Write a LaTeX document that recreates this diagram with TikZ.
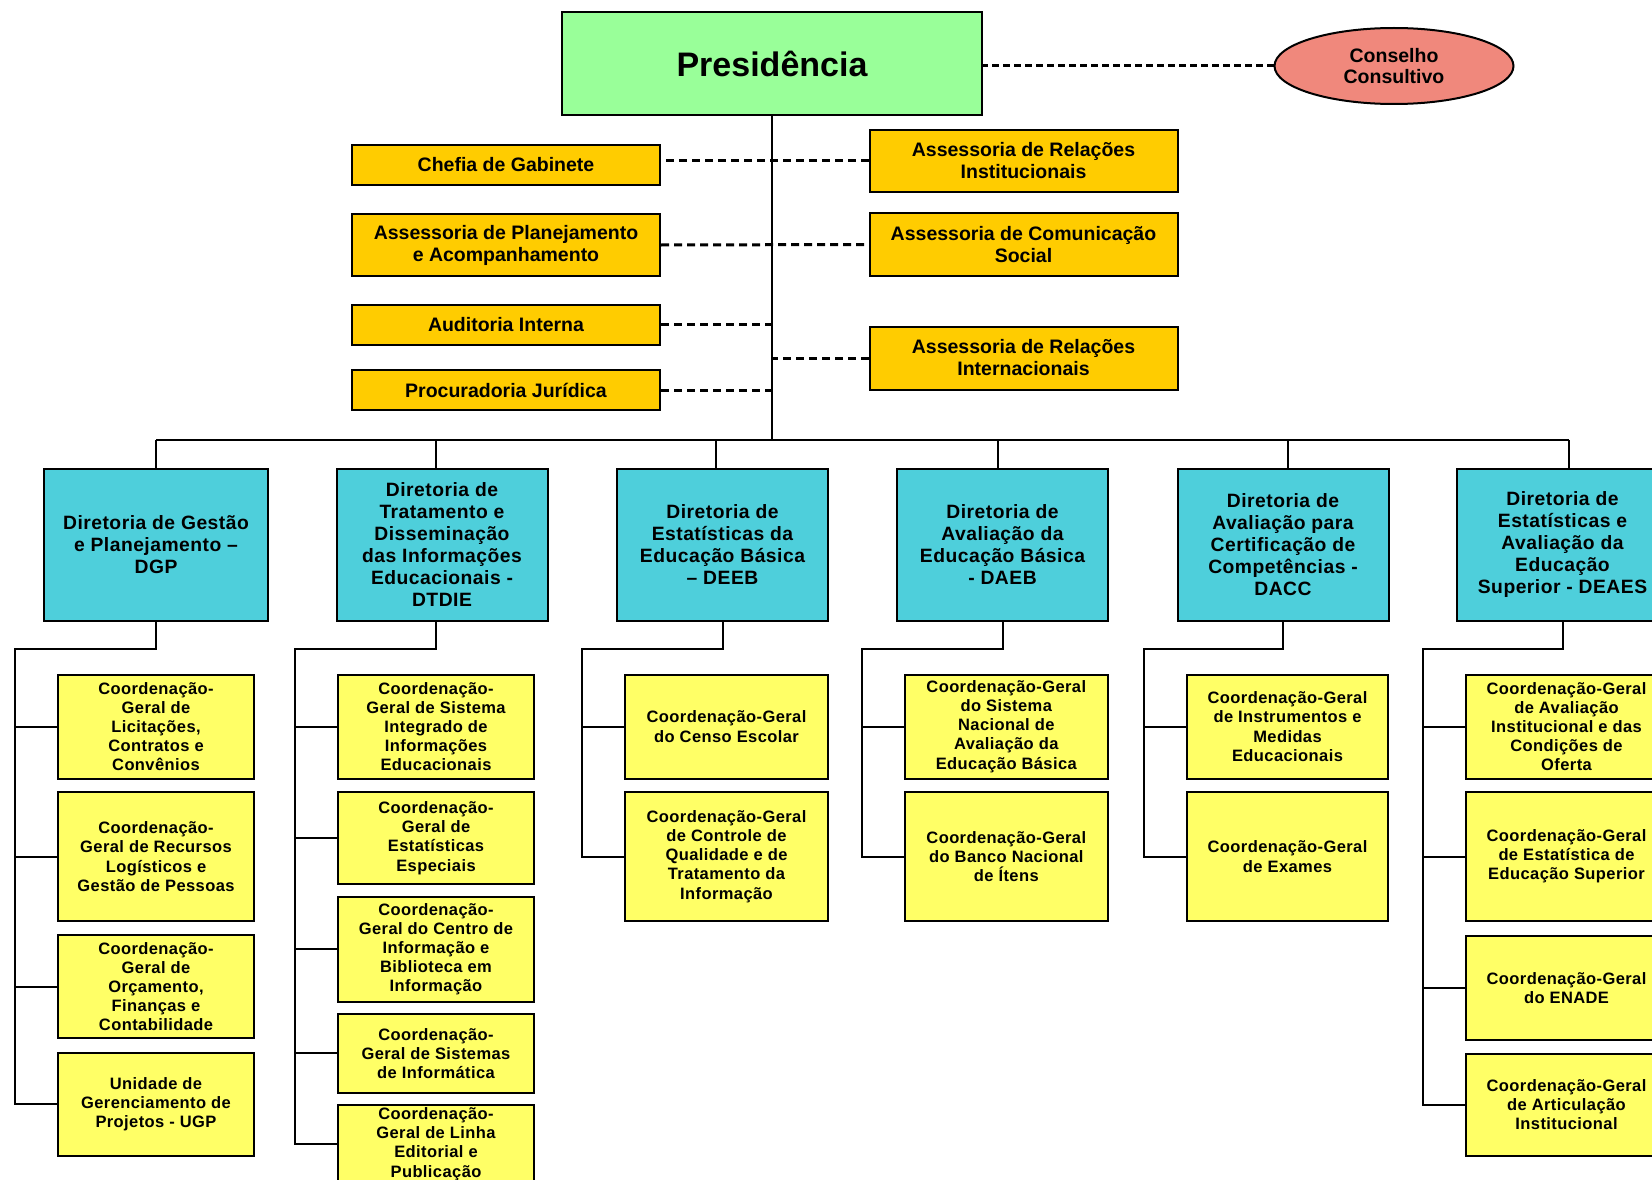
\documentclass[tikz,border=0pt]{standalone}
\usepackage{fontspec}
\setmainfont{Liberation Sans}
\newfontfamily\spacedsans[LetterSpace=2.5]{Liberation Sans}
\usetikzlibrary{shapes.geometric}

\definecolor{presgreen}{HTML}{99FF99}
\definecolor{conssalmon}{HTML}{F0887C}
\definecolor{assorange}{HTML}{FFCC00}
\definecolor{dircyan}{HTML}{4ECFDB}
\definecolor{coordyellow}{HTML}{FFFF66}

\tikzset{
  box/.style={draw, line width=2pt, align=center, inner sep=0pt},
  presbox/.style={box, fill=presgreen, minimum width=420pt, minimum height=103pt,
    font=\fontsize{34}{40}\selectfont\bfseries},
  consbox/.style={ellipse, draw, line width=2pt, align=center, inner sep=0pt,
    fill=conssalmon, minimum width=239pt, minimum height=76pt,
    font=\fontsize{19.5}{21}\selectfont\bfseries},
  assbox/.style={box, fill=assorange, minimum width=308pt,
    font=\fontsize{19.5}{22}\selectfont\bfseries},
  dirbox/.style={box, fill=dircyan, minimum width=211pt, minimum height=152pt,
    font=\spacedsans\fontsize{19.3}{22}\selectfont\bfseries},
  coordbox/.style={box, fill=coordyellow, minimum width=202pt, minimum height=104pt,
    font=\spacedsans\fontsize{16.5}{19.2}\selectfont\bfseries},
  link/.style={line width=2pt},
  dashlink/.style={line width=3pt, dash pattern=on 8pt off 5pt}
}

\begin{document}
\begin{tikzpicture}[x=1pt, y=-1pt]
\useasboundingbox (0,0) rectangle (1652,1180);

% Presidência e Conselho
\node[presbox] (pres) at (772,64) {Presidência};
\node[consbox] (cons) at (1394,66) {Conselho\\Consultivo};
\draw[dashlink, dash pattern=on 7pt off 4pt] (cons.west) -- (cons.west -| pres.east);

% Assessorias
\node[assbox, minimum height=40pt] (chefia) at (506,165) {Chefia de Gabinete};
\node[assbox, minimum height=62pt] (planej) at (506,245) {Assessoria de Planejamento\\e Acompanhamento};
\node[assbox, minimum height=40pt] (audit) at (506,324.5) {Auditoria Interna};
\node[assbox, minimum height=40pt] (procur) at (506,390) {Procuradoria Jurídica};
\node[assbox, minimum height=62pt] (relinst) at (1023.5,161) {Assessoria de Relações\\Institucionais};
\node[assbox, minimum height=63pt] (comunic) at (1023.5,244.5) {Assessoria de Comunicação\\Social};
\node[assbox, minimum height=63pt] (relintl) at (1023.5,358) {Assessoria de Relações\\Internacionais};

% Diretorias
\node[dirbox, minimum width=224pt] (dgp) at (156,545) {Diretoria de Gestão\\e Planejamento –\\DGP};
\node[dirbox] (dtdie) at (442,545) {Diretoria de\\Tratamento e\\Disseminação\\das Informações\\Educacionais -\\DTDIE};
\node[dirbox] (deeb) at (722.5,545) {Diretoria de\\Estatísticas da\\Educação Básica\\– DEEB};
\node[dirbox] (daeb) at (1002.5,545) {Diretoria de\\Avaliação da\\Educação Básica\\- DAEB};
\node[dirbox] (dacc) at (1283,545) {Diretoria de\\Avaliação para\\Certificação de\\Competências -\\DACC};
\node[dirbox] (deaes) at (1562.5,545) {Diretoria de\\Estatísticas e\\Avaliação da\\Educação\\Superior - DEAES};

% Coordenações DGP
\node[coordbox, minimum width=196pt] (dgp1) at (156,726.5) {Coordenação-\\Geral de\\Licitações,\\Contratos e\\Convênios};
\node[coordbox, minimum width=196pt, minimum height=129pt] (dgp2) at (156,856.5) {Coordenação-\\Geral de Recursos\\Logísticos e\\Gestão de Pessoas};
\node[coordbox, minimum width=196pt, minimum height=103pt] (dgp3) at (156,986.5) {Coordenação-\\Geral de\\Orçamento,\\Finanças e\\Contabilidade};
\node[coordbox, minimum width=196pt, minimum height=103pt] (dgp4) at (156,1104.3) {Unidade de\\Gerenciamento de\\Projetos - UGP};

% Coordenações DTDIE
\node[coordbox, minimum width=196pt] (dtdie1) at (436,726.5) {Coordenação-\\Geral de Sistema\\Integrado de\\Informações\\Educacionais};
\node[coordbox, minimum width=196pt, minimum height=92pt] (dtdie2) at (436,838) {Coordenação-\\Geral de\\Estatísticas\\Especiais};
\node[coordbox, minimum width=196pt, minimum height=104.6pt] (dtdie3) at (436,949.3) {Coordenação-\\Geral do Centro de\\Informação e\\Biblioteca em\\Informação};
\node[coordbox, minimum width=196pt, minimum height=78.7pt] (dtdie4) at (436,1053.4) {Coordenação-\\Geral de Sistemas\\de Informática};
\node[coordbox, minimum width=196pt, minimum height=78pt] (dtdie5) at (436,1144) {Coordenação-\\Geral de Linha\\Editorial e\\Publicação};

% Coordenações DEEB
\node[coordbox, minimum width=203pt] (deeb1) at (726.5,726.5) {Coordenação-Geral\\do Censo Escolar};
\node[coordbox, minimum width=203pt, minimum height=129pt] (deeb2) at (726.5,856.5) {Coordenação-Geral\\de Controle de\\Qualidade e de\\Tratamento da\\Informação};

% Coordenações DAEB
\node[coordbox, minimum width=203pt] (daeb1) at (1006.3,726.5) {Coordenação-Geral\\do Sistema\\Nacional de\\Avaliação da\\Educação Básica};
\node[coordbox, minimum width=203pt, minimum height=129pt] (daeb2) at (1006.3,856.5) {Coordenação-Geral\\do Banco Nacional\\de Ítens};

% Coordenações DACC
\node[coordbox, minimum width=201pt] (dacc1) at (1287.5,726.5) {Coordenação-Geral\\de Instrumentos e\\Medidas\\Educacionais};
\node[coordbox, minimum width=201pt, minimum height=129pt] (dacc2) at (1287.5,856.5) {Coordenação-Geral\\de Exames};

% Coordenações DEAES
\node[coordbox, minimum width=201pt] (deaes1) at (1566.5,726.5) {Coordenação-Geral\\de Avaliação\\Institucional e das\\Condições de\\Oferta};
\node[coordbox, minimum width=201pt, minimum height=129pt] (deaes2) at (1566.5,856.5) {Coordenação-Geral\\de Estatística de\\Educação Superior};
\node[coordbox, minimum width=201pt, minimum height=104.5pt] (deaes3) at (1566.5,988) {Coordenação-Geral\\do ENADE};
\node[coordbox, minimum width=201pt, minimum height=102.5pt] (deaes4) at (1566.5,1104.8) {Coordenação-Geral\\de Articulação\\Institucional};

% Ligações tracejadas
\draw[dashlink] (relinst.west) -- (relinst.west -| chefia.east);
\draw[dashlink] (planej.east) -- (comunic.west);
\draw[dashlink] (audit.east) -- (audit.east -| pres.south);
\draw[dashlink] (procur.east) -- (procur.east -| pres.south);
\draw[dashlink] (relintl.west) -- (relintl.west -| pres.south);

% Tronco e barramento
\coordinate (bus) at (772,440);
\draw[link] (pres.south) -- (bus);
\draw[link] (dgp.north |- bus) -- ([xshift=6.5pt]deaes.north |- bus);
\foreach \d/\s in {dgp/0,dtdie/-6,deeb/-7,daeb/-4.5,dacc/5,deaes/6.5}
  \draw[link] ([xshift=\s pt]\d.north) -- ([xshift=\s pt]\d.north |- bus);

% Ramos das diretorias
\draw[link] (dgp.south) -- ++(0,27) -| ([xshift=-42pt]dgp4.west) -- (dgp4.west);
\foreach \c in {dgp1,dgp2,dgp3} \draw[link] (\c.west) -- ++(-42,0);
\draw[link] ([xshift=-6pt]dtdie.south) -- ++(0,27) -| ([xshift=-42pt]dtdie5.west) -- (dtdie5.west);
\foreach \c in {dtdie1,dtdie2,dtdie3,dtdie4} \draw[link] (\c.west) -- ++(-42,0);
\draw[link] (deeb.south) -- ++(0,27) -| ([xshift=-42pt]deeb2.west) -- (deeb2.west);
\draw[link] (deeb1.west) -- ++(-42,0);
\draw[link] (daeb.south) -- ++(0,27) -| ([xshift=-42pt]daeb2.west) -- (daeb2.west);
\draw[link] (daeb1.west) -- ++(-42,0);
\draw[link] (dacc.south) -- ++(0,27) -| ([xshift=-42pt]dacc2.west) -- (dacc2.west);
\draw[link] (dacc1.west) -- ++(-42,0);
\draw[link] (deaes.south) -- ++(0,27) -| ([xshift=-42pt]deaes4.west) -- (deaes4.west);
\foreach \c in {deaes1,deaes2,deaes3} \draw[link] (\c.west) -- ++(-42,0);
\end{tikzpicture}
\end{document}
